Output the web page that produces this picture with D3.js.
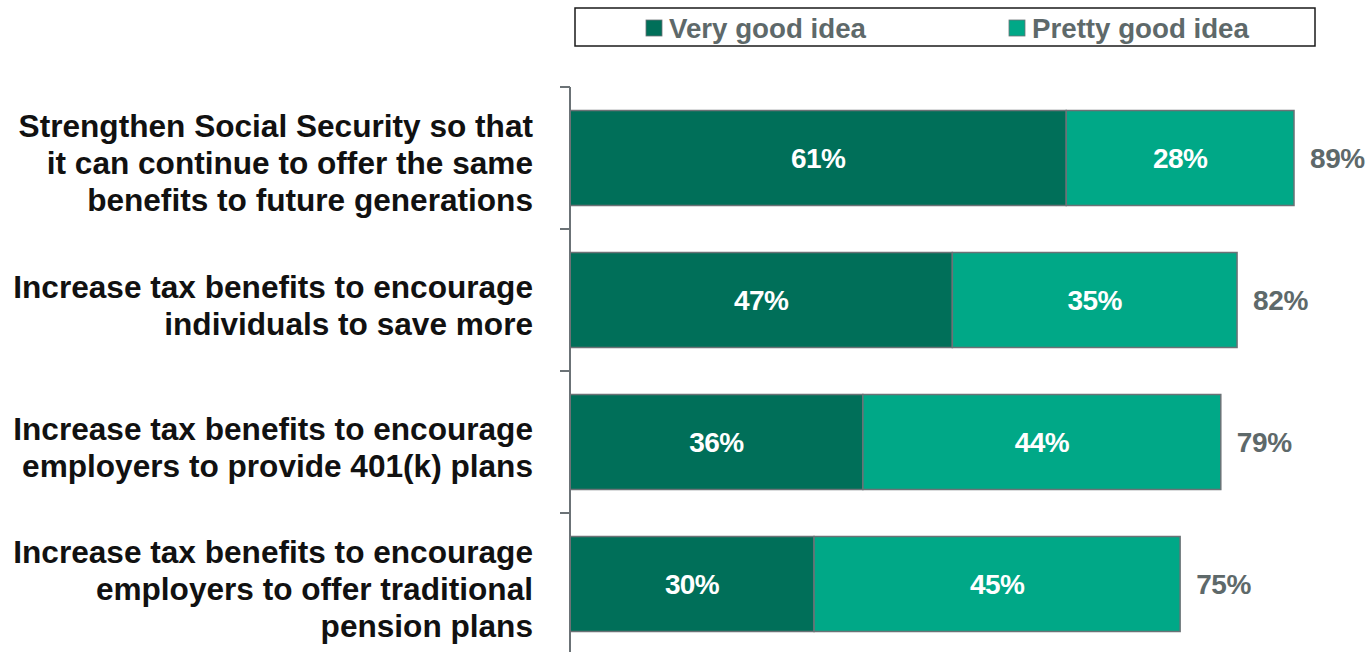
<!DOCTYPE html>
<html>
<head>
<meta charset="utf-8">
<script src="https://cdn.jsdelivr.net/npm/d3@7"></script>
<style>
  html, body { margin: 0; padding: 0; background: #fff; }
  svg { display: block; font-family: "Liberation Sans", Arial, sans-serif; }
</style>
</head>
<body>
<svg id="chart" width="1370" height="652"></svg>
<script>
// Survey items (each label split into its display lines)
const categories = [
  ["Strengthen Social Security so that", "it can continue to offer the same", "benefits to future generations"],
  ["Increase tax benefits to encourage", "individuals to save more"],
  ["Increase tax benefits to encourage", "employers to provide 401(k) plans"],
  ["Increase tax benefits to encourage", "employers to offer traditional", "pension plans"]
];
const seriesNames = ["Very good idea", "Pretty good idea"];
const veryGood = [61, 47, 36, 30];
const prettyGood = [28, 35, 44, 45];
const totalLabels = ["89%", "82%", "79%", "75%"];

const colors = ["#006f59", "#00a887"];
const strokeColor = "#6b7276";
const grayText = "#5e696a";

const svg = d3.select("#chart");

const x = d3.scaleLinear().domain([0, 100]).range([570, 1383.5]);
const y = d3.scaleBand()
  .domain(d3.range(categories.length))
  .range([87, 655])
  .paddingInner(0.331)
  .paddingOuter(0.1655);

// Stack the two series
const rows = categories.map((c, i) => ({ i, very: veryGood[i], pretty: prettyGood[i] }));
const stack = d3.stack().keys(["very", "pretty"]);
const layers = stack(rows);

const g = svg.append("g");
layers.forEach((layer, li) => {
  const lg = g.append("g");
  lg.selectAll("rect")
    .data(layer)
    .join("rect")
    .attr("x", d => x(d[0]))
    .attr("y", d => y(d.data.i))
    .attr("width", d => x(d[1]) - x(d[0]))
    .attr("height", y.bandwidth())
    .attr("fill", colors[li])
    .attr("stroke", strokeColor)
    .attr("stroke-width", 1.5);
  lg.selectAll("text")
    .data(layer)
    .join("text")
    .attr("x", d => (x(d[0]) + x(d[1])) / 2)
    .attr("y", d => y(d.data.i) + y.bandwidth() / 2)
    .attr("dy", "0.36em")
    .attr("text-anchor", "middle")
    .attr("fill", "#fff")
    .attr("font-weight", "bold")
    .attr("font-size", 28)
    .attr("letter-spacing", -0.6)
    .text(d => (d[1] - d[0]) + "%");
});

// Totals to the right of each bar
g.selectAll("text.total")
  .data(rows)
  .join("text")
  .attr("class", "total")
  .attr("x", d => x(d.very + d.pretty) + 16)
  .attr("y", d => y(d.i) + y.bandwidth() / 2)
  .attr("dy", "0.36em")
  .attr("fill", grayText)
  .attr("font-weight", "bold")
  .attr("font-size", 28)
  .attr("letter-spacing", -0.4)
  .text((d, i) => totalLabels[i]);

// Category axis: vertical line with ticks between bands
const axisG = svg.append("g");
axisG.append("line")
  .attr("x1", x(0)).attr("x2", x(0))
  .attr("y1", y.range()[0]).attr("y2", y.range()[1])
  .attr("stroke", strokeColor).attr("stroke-width", 2);
const tickPos = d3.range(categories.length + 1).map(k => y.range()[0] + k * y.step());
axisG.selectAll("line.tick")
  .data(tickPos)
  .join("line")
  .attr("class", "tick")
  .attr("x1", x(0) - 10).attr("x2", x(0))
  .attr("y1", d => d).attr("y2", d => d)
  .attr("stroke", strokeColor).attr("stroke-width", 2);

// Category labels
const lineH = 37;
const labels = svg.append("g");
categories.forEach((lines, i) => {
  const cy = y(i) + y.bandwidth() / 2 + 5;
  const t = labels.append("text")
    .attr("text-anchor", "end")
    .attr("font-weight", "bold")
    .attr("font-size", 31.6)
    .attr("fill", "#111");
  lines.forEach((ln, k) => {
    t.append("tspan")
      .attr("x", 533)
      .attr("y", cy + (k - (lines.length - 1) / 2) * lineH)
      .attr("dy", "0.36em")
      .text(ln);
  });
});

// Legend
const legend = svg.append("g");
legend.append("rect")
  .attr("x", 575).attr("y", 8).attr("width", 740).attr("height", 38)
  .attr("fill", "#fff").attr("stroke", "#1a1a1a").attr("stroke-width", 1.5);
const legendX = [646, 1009];
seriesNames.forEach((name, i) => {
  legend.append("rect")
    .attr("x", legendX[i]).attr("y", 20).attr("width", 16).attr("height", 16)
    .attr("fill", colors[i]).attr("stroke", strokeColor).attr("stroke-width", 0.8);
  legend.append("text")
    .attr("x", legendX[i] + 23).attr("y", 28)
    .attr("dy", "0.36em")
    .attr("font-weight", "bold")
    .attr("font-size", 27.7)
    .attr("fill", grayText)
    .text(name);
});
</script>
</body>
</html>
